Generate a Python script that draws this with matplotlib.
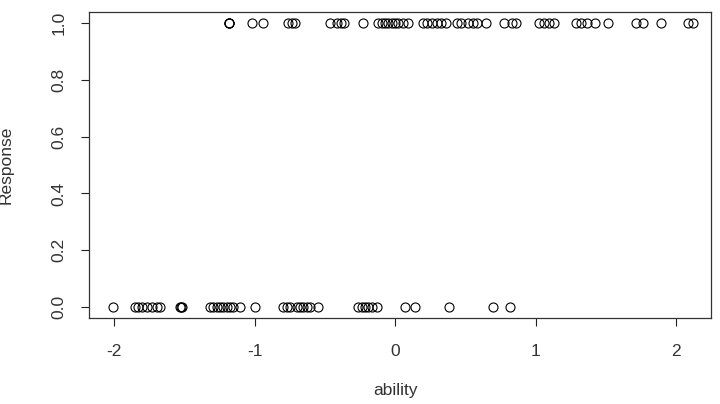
import matplotlib
matplotlib.use("Agg")
import matplotlib.pyplot as plt

# ability values for the two response groups
ability_one = [
    -1.183, -1.183, -1.183, -1.020, -0.941, -0.764, -0.735, -0.714, -0.465,
    -0.416, -0.387, -0.366, -0.231, -0.124, -0.096, -0.075, -0.053, -0.025,
    -0.004, 0.018, 0.053, 0.089, 0.195, 0.224, 0.259, 0.295, 0.330, 0.359,
    0.437, 0.472, 0.515, 0.551, 0.586, 0.650, 0.778, 0.835, 0.863, 1.027,
    1.062, 1.098, 1.133, 1.289, 1.325, 1.368, 1.425, 1.517, 1.716, 1.766,
    1.894, 2.085, 2.120,
]
ability_zero = [
    -2.007, -1.851, -1.830, -1.801, -1.766, -1.730, -1.695, -1.673, -1.531,
    -1.524, -1.517, -1.318, -1.297, -1.268, -1.247, -1.226, -1.197, -1.176,
    -1.155, -1.105, -0.998, -0.799, -0.771, -0.750, -0.700, -0.679, -0.657,
    -0.629, -0.607, -0.551, -0.266, -0.238, -0.217, -0.195, -0.167, -0.131,
    0.067, 0.139, 0.380, 0.693, 0.814,
]
x_ticks = [-2, -1, 0, 1, 2]
y_ticks = [0.0, 0.2, 0.4, 0.6, 0.8, 1.0]

plt.rcParams["font.family"] = ["Liberation Sans", "DejaVu Sans"]

fig = plt.figure(figsize=(7.2, 4.04), dpi=100)
ax = fig.add_axes([0.1236, 0.2129, 0.8644, 0.7571])

x = ability_zero + ability_one
y = [0.0] * len(ability_zero) + [1.0] * len(ability_one)
ax.plot(x, y, linestyle="none", marker="o", markersize=6.5,
        markerfacecolor="none", markeredgecolor="black", markeredgewidth=0.8)

ax.set_xlim(-2.178, 2.25)
ax.set_ylim(-0.0387, 1.0387)
ax.set_xticks(x_ticks)
ax.set_xticklabels([str(t) for t in x_ticks])
ax.set_yticks(y_ticks)
ax.set_yticklabels([f"{t:.1f}" for t in y_ticks], rotation=90, va="center")

ax.tick_params(direction="out", length=6, width=0.8, colors="#222222",
               labelsize=12.5, labelcolor="#333333")
ax.tick_params(axis="x", pad=13)
ax.tick_params(axis="y", pad=10)
for spine in ax.spines.values():
    spine.set_linewidth(0.9)
    spine.set_color("#333333")

fig.text(395 / 720, 1 - 390 / 404, "ability", ha="center", va="center",
         fontsize=12.5, color="#333333")
fig.text(6 / 720, 1 - 165 / 404, "Response", ha="center", va="center",
         rotation=90, fontsize=12.5, color="#333333")

fig.savefig("out.png", dpi=100)
